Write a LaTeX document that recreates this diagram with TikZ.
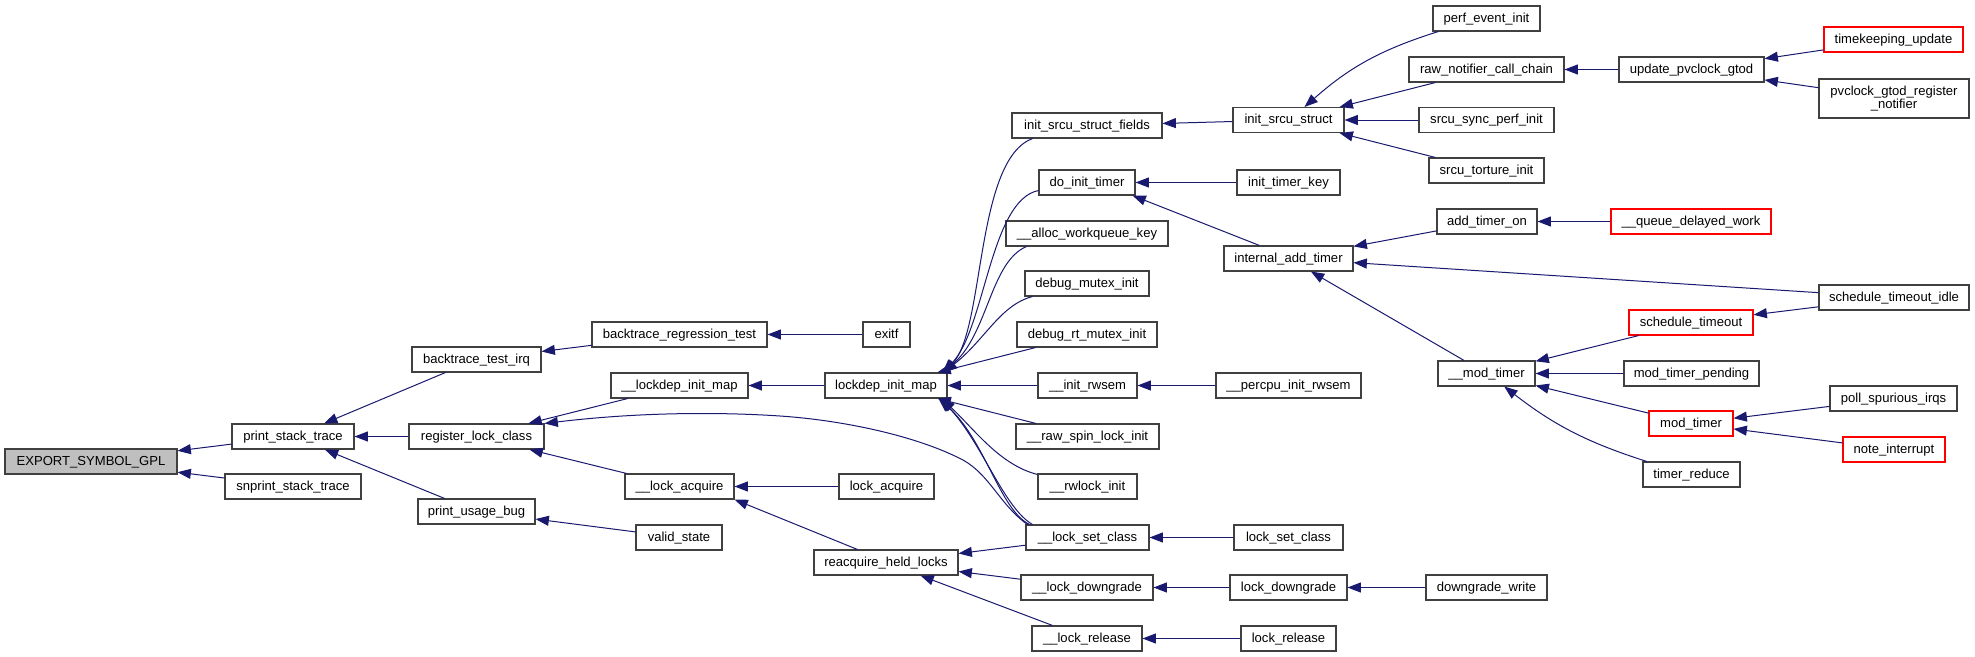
\documentclass[tikz,border=0pt]{standalone}
\usepackage{fontspec}
\setmainfont{Liberation Sans}
\usetikzlibrary{arrows.meta,calc}
\definecolor{edgeblue}{RGB}{25,25,112}
\definecolor{boxline}{RGB}{64,64,64}
\definecolor{rootfill}{RGB}{191,191,191}
\begin{document}
\begin{tikzpicture}[x=0.75pt,y=-0.75pt,
  fnbase/.style={draw=boxline,line width=0.8pt,fill=white,inner sep=0pt,minimum height=18.75pt,font=\fontsize{9.8pt}{10.3pt}\selectfont},
  fn/.style={fnbase,text height=8pt,text depth=2.3pt},
  bw/.style={minimum width=#1*0.75pt},
  redfn/.style={fn,draw=red},
  edge/.style={draw=edgeblue,line width=0.75pt,-{Triangle[length=10pt,width=7.5pt]}}]
\fill[white] (0,0) rectangle (1975,657);
\useasboundingbox (0,0) rectangle (1975,657);

% column 0
\node[fn,fill=rootfill,bw=172] (exp) at (91,461.5) {EXPORT\_SYMBOL\_GPL};
% column 1
\node[fn,bw=122] (pst) at (293,436.5) {print\_stack\_trace};
\node[fn,bw=136] (snp) at (293,486.5) {snprint\_stack\_trace};
% column 2
\node[fn,bw=129] (bti) at (476.5,359.5) {backtrace\_test\_irq};
\node[fn,bw=135] (rlc) at (476.5,436.5) {register\_lock\_class};
\node[fn,bw=117] (pub) at (476.5,511.5) {print\_usage\_bug};
% column 3
\node[fn,bw=175] (brt) at (679.5,334.5) {backtrace\_regression\_test};
\node[fn,bw=137] (ldim) at (679.5,385.5) {\_\_lockdep\_init\_map};
\node[fn,bw=109] (lacq) at (679.5,486.5) {\_\_lock\_acquire};
\node[fn,bw=86] (vst) at (679,537.5) {valid\_state};
% column 4
\node[fn,bw=47] (exitf) at (886.5,334.5) {exitf};
\node[fn,bw=122] (lim) at (886,385.5) {lockdep\_init\_map};
\node[fn,bw=95] (lka) at (886.5,486.5) {lock\_acquire};
\node[fn,bw=144] (rhl) at (886,562.5) {reacquire\_held\_locks};
% column 5
\node[fn,bw=150] (isf) at (1087,125.5) {init\_srcu\_struct\_fields};
\node[fn,bw=96] (dit) at (1087,182.5) {do\_init\_timer};
\node[fn,bw=162] (awk) at (1087,233.5) {\_\_alloc\_workqueue\_key};
\node[fn,bw=124] (dmi) at (1087,283.5) {debug\_mutex\_init};
\node[fn,bw=140] (drmi) at (1087,334.5) {debug\_rt\_mutex\_init};
\node[fn,bw=99] (irw) at (1087.5,385.5) {\_\_init\_rwsem};
\node[fn,bw=143] (rsl) at (1087.5,436.5) {\_\_raw\_spin\_lock\_init};
\node[fn,bw=99] (rwl) at (1087.5,486.5) {\_\_rwlock\_init};
\node[fn,bw=123] (lsc) at (1087.5,537.5) {\_\_lock\_set\_class};
\node[fn,bw=132] (ldg) at (1087,587.5) {\_\_lock\_downgrade};
\node[fn,bw=110] (lrl) at (1087,638.5) {\_\_lock\_release};
% column 6
\node[fn,bw=111] (iss) at (1288.5,120) {init\_srcu\_struct};
\node[fn,bw=103] (itk) at (1288.5,182.5) {init\_timer\_key};
\node[fn,bw=129] (iat) at (1288.5,258.5) {internal\_add\_timer};
\node[fn,bw=145] (pir) at (1288.5,385.5) {\_\_percpu\_init\_rwsem};
\node[fn,bw=109] (lscb) at (1288.5,537.5) {lock\_set\_class};
\node[fn,bw=117] (ldgb) at (1288.5,587.5) {lock\_downgrade};
\node[fn,bw=95] (lrlb) at (1288.5,638.5) {lock\_release};
% column 7
\node[fn,bw=107] (pei) at (1486.5,18.5) {perf\_event\_init};
\node[fn,bw=155] (rnc) at (1486.5,69.5) {raw\_notifier\_call\_chain};
\node[fn,bw=135] (ssp) at (1486.5,120) {srcu\_sync\_perf\_init};
\node[fn,bw=115] (sti) at (1486.5,170.5) {srcu\_torture\_init};
\node[fn,bw=100] (ato) at (1487,221.5) {add\_timer\_on};
\node[fn,bw=97] (mdt) at (1486.5,373.5) {\_\_mod\_timer};
\node[fn,bw=121] (dgw) at (1486.5,587.5) {downgrade\_write};
% column 8
\node[fn,bw=145] (upg) at (1691.5,69.5) {update\_pvclock\_gtod};
\node[redfn,bw=160] (qdw) at (1691,221.5) {\_\_queue\_delayed\_work};
\node[redfn,bw=124] (sto) at (1691,322.5) {schedule\_timeout};
\node[fn,bw=135] (mtp) at (1691.5,373.5) {mod\_timer\_pending};
\node[redfn,bw=84] (mt) at (1691,423.5) {mod\_timer};
\node[fn,bw=97] (tr) at (1691.5,474.5) {timer\_reduce};
% column 9
\node[redfn,bw=139] (tku) at (1893.5,39.5) {timekeeping\_update};
\node[fnbase,bw=150,minimum height=29.25pt,align=center] (pgr) at (1894,98.5) {pvclock\_gtod\_register\\\_notifier};
\node[fn,bw=150] (stidle) at (1894,297.5) {schedule\_timeout\_idle};
\node[fn,bw=127] (psi) at (1893.5,398.5) {poll\_spurious\_irqs};
\node[redfn,bw=102] (ni) at (1894,449.5) {note\_interrupt};

% edges
\draw[edge] (pst) -- (exp);
\draw[edge] (snp) -- (exp);
\draw[edge] (bti) -- (pst);
\draw[edge] (rlc) -- (pst);
\draw[edge] (pub) -- (pst);
\draw[edge] (brt) -- (bti);
\draw[edge] (exitf) -- (brt);
\draw[edge] (ldim) -- (rlc);
\draw[edge] ($(lsc.north west)+(2,0)$) .. controls (1000,505) and (990,475) .. (963,460)
   .. controls (915,435) and (840,420) .. (780,416)
   .. controls (720,412) and (640,412) .. (rlc.north east);
\draw[edge] (lacq) -- (rlc);
\draw[edge] (vst) -- (pub);
\draw[edge] (lim) -- (ldim);
\draw[edge] (lka) -- (lacq);
\draw[edge] ($(rhl.north west)+(44,0)$) -- (lacq.south east);
% upper fan into lockdep_init_map
\draw[edge] ($(isf.south west)+(21,0)$) .. controls (975,160) and (985,330) .. ($(lim.north east)+(-4,0)$);
\draw[edge] ($(dit.south west)+(0,-5)$) .. controls (990,200) and (985,330) .. ($(lim.north east)+(-5,0)$);
\draw[edge] ($(awk.south west)+(21,0)$) .. controls (990,262) and (988,335) .. ($(lim.north east)+(-5,0)$);
\draw[edge] ($(dmi.south west)+(8,0)$) .. controls (1000,305) and (985,340) .. ($(lim.north east)+(-4,0)$);
\draw[edge] (drmi) -- (lim);
% lower fan into lockdep_init_map
\draw[edge] (irw) -- (lim);
\draw[edge] (rsl) -- (lim);
\draw[edge] ($(rwl.north west)+(0,1)$) .. controls (1000,465) and (975,430) .. ($(lim.south east)+(-6,0)$);
\draw[edge] ($(lsc.north west)+(4,0)$) .. controls (1000,510) and (985,440) .. ($(lim.south east)+(-9,0)$);
\draw[edge] ($(lsc.north west)+(7,0)$) .. controls (1004,508) and (982,443) .. ($(lim.south east)+(-7,0)$);
% into reacquire_held_locks
\draw[edge] (lsc) -- (rhl);
\draw[edge] (ldg) -- (rhl);
\draw[edge] (lrl) -- (rhl);
% column 6 -> 5
\draw[edge] (iss) -- (isf);
\draw[edge] (itk) -- (dit);
\draw[edge] ($(iat.north west)+(36,0)$) -- ($(dit.south east)+(-3,0)$);
\draw[edge] (pir) -- (irw);
\draw[edge] (lscb) -- (lsc);
\draw[edge] (ldgb) -- (ldg);
\draw[edge] (lrlb) -- (lrl);
% column 7 -> 6
\draw[edge] (pei) to[bend right=12] (iss);
\draw[edge] (rnc) -- (iss);
\draw[edge] (ssp) -- (iss);
\draw[edge] (sti) -- (iss);
\draw[edge] (ato) -- (iat);
\draw[edge] (stidle) -- (iat);
\draw[edge] (mdt) -- (iat);
\draw[edge] (dgw) -- (ldgb);
% column 8 -> 7
\draw[edge] (upg) -- (rnc);
\draw[edge] (qdw) -- (ato);
\draw[edge] (sto) -- (mdt);
\draw[edge] (mtp) -- (mdt);
\draw[edge] (mt) -- (mdt);
\draw[edge] (tr) to[bend left=10] (mdt);
% column 9 -> 8
\draw[edge] (tku) -- (upg);
\draw[edge] (pgr) -- (upg);
\draw[edge] (stidle) -- (sto);
\draw[edge] (psi) -- (mt);
\draw[edge] (ni) -- (mt);
\end{tikzpicture}
\end{document}
